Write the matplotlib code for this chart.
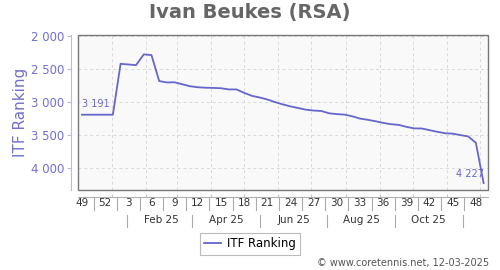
import numpy as np
import matplotlib
matplotlib.use('Agg')
import matplotlib.pyplot as plt
import matplotlib.dates as mdates
import matplotlib.transforms as mtransforms
from matplotlib.patches import Rectangle
import datetime as dt

# weekly ranking (points on Thursdays, starting ISO week 49 of 2024)
start = dt.date(2024, 12, 5)
ranking = [3191, 3191, 3191, 3191, 3191, 2420, 2430, 2440, 2277, 2288,
           2682, 2702, 2700, 2730, 2760, 2775, 2782, 2785, 2790, 2808,
           2808, 2860, 2905, 2930, 2960, 3000, 3035, 3065, 3090, 3115,
           3128, 3135, 3170, 3182, 3190, 3215, 3250, 3268, 3290, 3315,
           3335, 3345, 3375, 3398, 3400, 3425, 3450, 3472, 3478, 3500,
           3520, 3616, 4227]
week_labels = ['49', '52', '3', '6', '9', '12', '15', '18', '21', '24',
               '27', '30', '33', '36', '39', '42', '45', '48']
month_labels = ['Feb 25', 'Apr 25', 'Jun 25', 'Aug 25', 'Oct 25']
yticks = [2000, 2500, 3000, 3500, 4000]

dates = [start + dt.timedelta(days=7 * i) for i in range(len(ranking))]
x = mdates.date2num(dates)

BLUE = '#6666cc'
AXBLUE = '#7070d2'
GRAY = '#777777'

fig = plt.figure(figsize=(5, 2.7), dpi=100)
ax = fig.add_axes([0.156, 0.296, 0.82, 0.574])
ax.set_facecolor('#f9f9f9')

ax.plot(x, ranking, color=BLUE, lw=1.3, label='ITF Ranking', zorder=3)

x0 = mdates.date2num(start)
ax.set_xlim(x0 - 3.6, x0 + 368)
ax.set_ylim(4333, 1985)

# grid: months vertically, ranks horizontally
months = [mdates.date2num(dt.date(2025, m, 1)) for m in range(1, 13)]
for m in months:
    ax.axvline(m, color='#d8d8d8', lw=0.7, ls=(0, (3, 3)), zorder=1)
for v in yticks:
    ax.axhline(v, color='#d8d8d8', lw=0.7, ls=(0, (3, 3)), zorder=1)

# frame
ax.add_patch(Rectangle((0, 0), 1, 1, transform=ax.transAxes, fill=False,
                       edgecolor=GRAY, lw=1.0, clip_on=False, zorder=4))
for s in ['top', 'right']:
    ax.spines[s].set_visible(False)
ax.spines['left'].set_position(('outward', 5))
ax.spines['left'].set_color('#b8b8ea')
ax.spines['bottom'].set_position(('outward', 5))
ax.spines['bottom'].set_color('#b0b0b0')

# y axis
ax.set_yticks(yticks)
ax.set_yticklabels([f'{v:,}'.replace(',', ' ') for v in yticks])
ax.tick_params(axis='y', length=3, width=0.8, color='#b8b8ea', pad=2,
               labelsize=8.5, labelcolor=AXBLUE)
ax.set_ylabel('ITF Ranking', color=AXBLUE, fontsize=11, labelpad=2)

# x axis: month ticks, week labels as text
ax.set_xticks(months)
ax.set_xticklabels([])
ax.tick_params(axis='x', length=2, color='#c8c8c8', direction='in')

trans = mtransforms.blended_transform_factory(ax.transData, ax.transAxes)
week_x = x[::3]
for wx, lab in zip(week_x, week_labels):
    ax.text(wx, -0.085, lab, transform=trans, ha='center', va='center',
            fontsize=7.5, color='#333333')
for wx in week_x[:-1] + 10.5:
    ax.plot([wx, wx], [-0.045, -0.13], transform=trans, color='#aaaaaa',
            lw=0.8, clip_on=False)

even_mid = [mdates.date2num(dt.date(2025, m, 15)) for m in (2, 4, 6, 8, 10)]
odd_mid = [mdates.date2num(dt.date(2025, m, 15)) for m in (1, 3, 5, 7, 9, 11)]
for mx, lab in zip(even_mid, month_labels):
    ax.text(mx, -0.195, lab, transform=trans, ha='center', va='center',
            fontsize=7.5, color='#333333')
for mx in odd_mid:
    ax.plot([mx, mx], [-0.16, -0.235], transform=trans, color='#aaaaaa',
            lw=0.8, clip_on=False)

# value labels
ax.annotate(f'{ranking[0]:,}'.replace(',', ' '), (x[0], ranking[0]),
            xytext=(0, 4), textcoords='offset points', ha='left', va='bottom',
            fontsize=7, color=BLUE)
ax.annotate(f'{ranking[-1]:,}'.replace(',', ' '), (x[-1], ranking[-1]),
            xytext=(0, 3), textcoords='offset points', ha='right', va='bottom',
            fontsize=7, color=BLUE)

fig.text(0.5, 0.952, 'Ivan Beukes (RSA)', ha='center', va='center',
         fontsize=14, fontweight='bold', color='#666666')

leg = fig.legend(loc='center', bbox_to_anchor=(0.5, 1 - 244 / 270),
                 fontsize=8.5, frameon=True, fancybox=False, handlelength=1.4,
                 borderpad=0.4, handletextpad=0.5)
leg.get_frame().set_edgecolor('#aaaaaa')
leg.get_frame().set_linewidth(0.8)

fig.text(0.978, 1 - 263 / 270, '\u00a9 www.coretennis.net, 12-03-2025',
         ha='right', va='center', fontsize=7, color='#555555')

fig.savefig('out.png', dpi=100)
